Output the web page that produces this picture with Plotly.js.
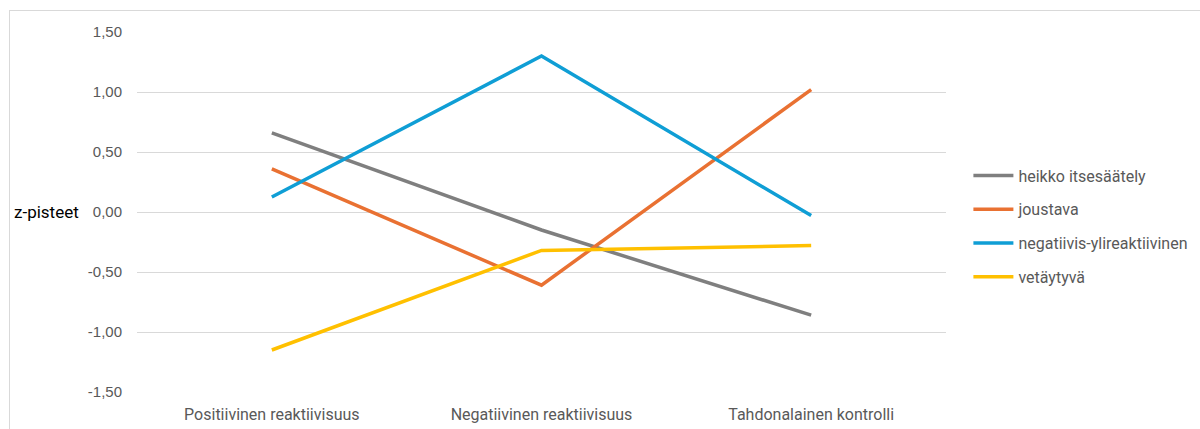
<!DOCTYPE html>
<html>
<head>
<meta charset="utf-8">
<script src="https://cdn.plot.ly/plotly-3.0.1.min.js"></script>
<style>
html,body{margin:0;padding:0;background:#fff;}
#wrap{position:relative;width:1200px;height:429px;overflow:hidden;}
#chart{width:1200px;height:429px;}
#frame{position:absolute;left:9px;top:10px;width:1200px;height:430px;border-left:1px solid #d9d9d9;border-top:1px solid #d9d9d9;pointer-events:none;}
</style>
</head>
<body>
<div id="wrap"><div id="chart"></div><div id="frame"></div></div>
<script>
const categories = ["Positiivinen reaktiivisuus", "Negatiivinen reaktiivisuus", "Tahdonalainen kontrolli"];
const seriesNames = ["heikko itsesäätely", "joustava", "negatiivis-ylireaktiivinen", "vetäytyvä"];
const heikko = [0.66, -0.15, -0.86];
const joustava = [0.36, -0.61, 1.02];
const negatiivis = [0.125, 1.30, -0.03];
const vetaytyva = [-1.15, -0.32, -0.28];
const yTicks = [-1.5, -1.0, -0.5, 0, 0.5, 1.0, 1.5];
const yTickLabels = ["-1,50", "-1,00", "-0,50", "0,00", "0,50", "1,00", "1,50"];
const yTitle = "z-pisteet";

const colors = ["#7F7F7F", "#E97132", "#0F9ED5", "#FFC000"];
const values = [heikko, joustava, negatiivis, vetaytyva];

const traces = values.map((v, i) => ({
  x: categories,
  y: v,
  name: seriesNames[i],
  type: "scatter",
  mode: "lines",
  legendgroup: "g" + i,
  line: {color: colors[i], width: 3.5},
  hoverinfo: "skip"
}));

const layout = {
  width: 1200,
  height: 429,
  margin: {l: 137, r: 254, t: 32, b: 37, autoexpand: false},
  paper_bgcolor: "#ffffff",
  plot_bgcolor: "#ffffff",
  separators: ", ",
  showlegend: true,
  legend: {
    xref: "container", yref: "container",
    x: 0.807, xanchor: "left",
    y: 0.472, yanchor: "middle",
    font: {family: "Roboto, 'Liberation Sans', sans-serif", size: 16, color: "#595959"},
    tracegroupgap: 10,
    itemwidth: 40,
    bgcolor: "rgba(0,0,0,0)"
  },
  xaxis: {
    type: "category",
    range: [-0.5, 2.5],
    showgrid: false,
    zeroline: false,
    showline: false,
    ticks: "",
    ticklabelstandoff: 11,
    tickfont: {family: "Roboto, 'Liberation Sans', sans-serif", size: 16, color: "#595959"}
  },
  yaxis: {
    range: [-1.5, 1.5],
    tickvals: yTicks,
    ticktext: yTickLabels,
    showgrid: true,
    gridcolor: "#d9d9d9",
    gridwidth: 1,
    zeroline: false,
    showline: false,
    ticks: "",
    ticklabelstandoff: 14,
    tickfont: {family: "'Liberation Sans', Arial, sans-serif", size: 15, color: "#595959"}
  },
  annotations: [{
    text: yTitle,
    xref: "paper", yref: "y",
    x: -0.069, y: 0,
    xanchor: "right", yanchor: "middle",
    showarrow: false,
    font: {family: "Roboto, 'Liberation Sans', sans-serif", size: 17, color: "#000000"}
  }]
};

Plotly.newPlot("chart", traces, layout, {displayModeBar: false, staticPlot: true});
</script>
</body>
</html>
